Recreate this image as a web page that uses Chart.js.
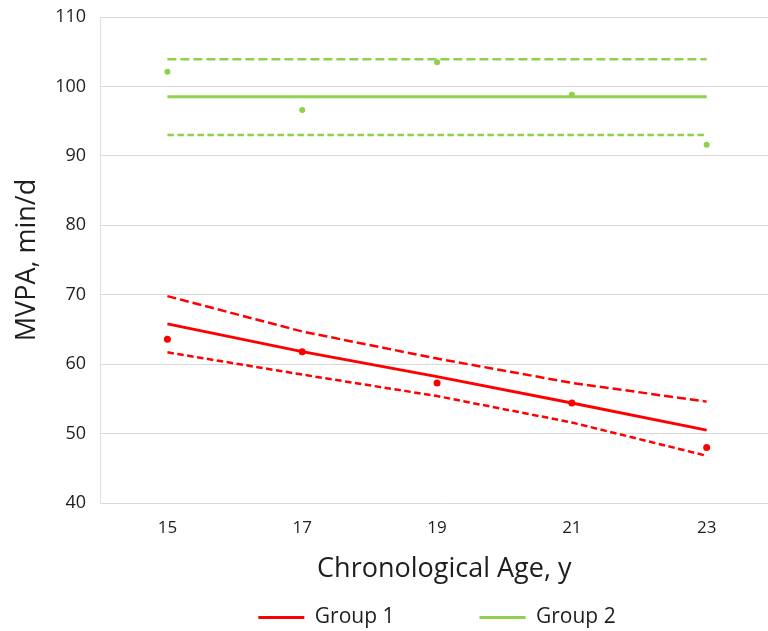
<!DOCTYPE html>
<html>
<head>
<meta charset="utf-8">
<script src="https://cdn.jsdelivr.net/npm/chart.js@4.4.1/dist/chart.umd.min.js"></script>
<style>
  html, body { margin: 0; padding: 0; background: #ffffff; overflow: hidden; width: 768px; height: 631px; }
  #wrap { width: 768px; height: 631px; overflow: hidden; position: relative; }
  #c { position: absolute; left: 0; top: 0; }
</style>
</head>
<body>
<div id="wrap"><canvas id="c" width="792" height="631"></canvas></div>
<script>
// ---- data ----
const ages = [15, 17, 19, 21, 23];
const xTickValues = [15, 17, 19, 21, 23];
const yTickValues = [40, 50, 60, 70, 80, 90, 100, 110];

const group1Observed = [63.6, 61.8, 57.3, 54.4, 48.0];
const group1Fit      = [65.8, 61.8, 58.2, 54.4, 50.5];
const group1Upper    = [69.8, 64.7, 60.8, 57.3, 54.6];
const group1Lower    = [61.7, 58.5, 55.4, 51.6, 46.8];

const group2Observed = [102.1, 96.6, 103.5, 98.8, 91.6];
const group2Fit      = [98.5, 98.5, 98.5, 98.5, 98.5];
const group2Upper    = [103.9, 103.9, 103.9, 103.9, 103.9];
const group2Lower    = [93.0, 93.0, 93.0, 93.0, 93.0];

const seriesNames = ['Group 1', 'Group 2'];
const xTitle = 'Chronological Age, y';
const yTitle = 'MVPA, min/d';

const RED = '#ff0000';
const GREEN = '#8fd04c';

const pts = (vals) => ages.map((a, i) => ({ x: a, y: vals[i] }));

function lineDs(label, vals, color, width, dash) {
  return {
    label, data: pts(vals), borderColor: color, backgroundColor: color,
    borderWidth: width, borderDash: dash || [], pointRadius: 0, pointHoverRadius: 0,
    tension: 0, fill: false
  };
}
function dotDs(label, vals, color, r) {
  return {
    label, data: pts(vals), borderColor: color, backgroundColor: color,
    showLine: false, pointRadius: r, pointBorderWidth: 0, pointHoverRadius: r
  };
}

const datasets = [
  lineDs(seriesNames[0], group1Fit, RED, 3),
  lineDs(seriesNames[1], group2Fit, GREEN, 3),
  lineDs('g1 upper', group1Upper, RED, 2.5, [9, 4]),
  lineDs('g1 lower', group1Lower, RED, 2.5, [6.5, 3.5]),
  lineDs('g2 upper', group2Upper, GREEN, 2.5, [9, 4]),
  lineDs('g2 lower', group2Lower, GREEN, 2.5, [6.5, 3.5]),
  dotDs('g1 obs', group1Observed, RED, 3.5),
  dotDs('g2 obs', group2Observed, GREEN, 3)
];

const FONT = '"Open Sans", Lato, sans-serif';
const TEXT = '#1e1e1e';

new Chart(document.getElementById('c'), {
  type: 'line',
  data: { datasets },
  options: {
    responsive: false,
    animation: false,
    devicePixelRatio: 1,
    layout: { padding: { top: 17, left: 82, right: 0, bottom: -7 } },
    plugins: {
      tooltip: { enabled: false },
      legend: {
        position: 'bottom',
        labels: {
          boxWidth: 46,
          boxHeight: 3,
          padding: 85,
          color: TEXT,
          font: { family: FONT, size: 21 },
          generateLabels(chart) {
            const items = Chart.defaults.plugins.legend.labels.generateLabels(chart);
            return items
              .filter(it => seriesNames.includes(it.text))
              .map(it => Object.assign({}, it, { lineWidth: 0, fillStyle: it.strokeStyle, lineDash: [] }));
          }
        }
      }
    },
    scales: {
      x: {
        type: 'linear',
        min: 14,
        max: 24.214,
        afterBuildTicks(scale) { scale.ticks = xTickValues.map(v => ({ value: v })); },
        afterFit(scale) { scale.height = 19; },
        grid: { display: false, drawTicks: false },
        border: { display: false },
        ticks: { mirror: true, padding: -35.5, autoSkip: false, maxRotation: 0, color: TEXT, font: { family: FONT, size: 17 } },
        title: {
          display: true, text: xTitle, color: TEXT,
          font: { family: FONT, size: 27 },
          padding: { top: 0, bottom: -63.2 }
        }
      },
      y: {
        type: 'linear',
        min: 40,
        max: 110,
        afterBuildTicks(scale) { scale.ticks = yTickValues.map(v => ({ value: v })); },
        afterFit(scale) { scale.width = 18; },
        grid: { color: '#d9d9d9', lineWidth: 1, drawTicks: false },
        border: { display: true, color: '#d7e0ea', width: 1 },
        ticks: { mirror: true, crossAlign: 'far', padding: -44.8, color: TEXT, font: { family: FONT, size: 18 } },
        title: {
          display: true, text: yTitle, color: TEXT,
          font: { family: FONT, size: 27 },
          padding: { top: -71.2, bottom: 0 }
        }
      }
    }
  }
});
</script>
</body>
</html>
